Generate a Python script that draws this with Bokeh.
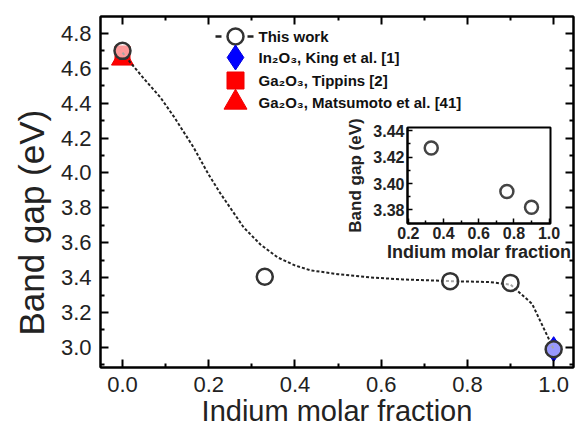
from bokeh.plotting import figure
from bokeh.models import (Range1d, FixedTicker, PrintfTickFormatter, LinearAxis, Title)
from bokeh.core.properties import value
from bokeh.layouts import column
from bokeh.embed import file_html
from bokeh.resources import INLINE

# ---- data ----
work_x = [0.0, 0.33, 0.76, 0.90, 1.0]
work_y = [4.70, 3.405, 3.38, 3.37, 2.99]
king_x = [1.0]
king_y = [2.99]
tippins_x = [0.0]
tippins_y = [4.685]
matsu_x = [0.0]
matsu_y = [4.655]
fit_x = [0.0, 0.02, 0.05, 0.088, 0.12, 0.165, 0.20, 0.227, 0.25, 0.281, 0.32,
         0.36, 0.40, 0.436, 0.50, 0.575, 0.65, 0.76, 0.85, 0.90, 0.95, 1.0]
fit_y = [4.69, 4.628, 4.54, 4.433, 4.32, 4.146, 3.99, 3.883, 3.80, 3.688, 3.59,
         3.516, 3.47, 3.442, 3.42, 3.401, 3.39, 3.38, 3.375, 3.36, 3.25, 2.99]
inset_x = [0.33, 0.76, 0.90]
inset_y = [3.427, 3.394, 3.382]

legend_labels = ["This work", "In\u2082O\u2083, King et al. [1]",
                 "Ga\u2082O\u2083, Tippins [2]", "Ga\u2082O\u2083, Matsumoto et al. [41]"]

x_ticks = [0.0, 0.2, 0.4, 0.6, 0.8, 1.0]
x_minor = [0.1, 0.3, 0.5, 0.7, 0.9]
y_ticks = [3.0, 3.2, 3.4, 3.6, 3.8, 4.0, 4.2, 4.4, 4.6, 4.8]
y_minor = [2.9, 3.1, 3.3, 3.5, 3.7, 3.9, 4.1, 4.3, 4.5, 4.7]
inset_x_ticks = [0.2, 0.4, 0.6, 0.8, 1.0]
inset_x_minor = [0.3, 0.5, 0.7, 0.9]
inset_y_ticks = [3.38, 3.40, 3.42, 3.44]
inset_y_minor = [3.37, 3.39, 3.41, 3.43]

FONT = "Liberation Sans"
X0, X1, Y0, Y1 = -0.051, 1.046, 2.885, 4.897
FRAME_W, FRAME_H = 473, 351

def px2x(px):
    return X0 + px / FRAME_W * (X1 - X0)

def px2y(py):
    return Y0 + py / FRAME_H * (Y1 - Y0)

def style_axis(ax, label_size, bold=False, show_labels=True):
    ax.axis_line_width = 2
    ax.major_tick_line_width = 2
    ax.minor_tick_line_width = 2
    ax.major_tick_in = 8
    ax.major_tick_out = 0
    ax.minor_tick_in = 4
    ax.minor_tick_out = 0
    ax.major_label_text_font = FONT
    ax.major_label_text_font_size = label_size if show_labels else "0px"
    ax.major_label_text_color = "#222222"
    if bold:
        ax.major_label_text_font_style = "bold"
    ax.axis_label_text_font = FONT
    ax.axis_label_text_font_style = "bold" if bold else "normal"
    ax.axis_label_text_color = "#222222"

p = figure(width=575, height=435, output_backend="svg", toolbar_location=None,
           x_range=Range1d(X0, X1), y_range=Range1d(Y0, Y1),
           min_border_left=100, min_border_right=2, min_border_top=16,
           min_border_bottom=68, frame_align=False)
p.grid.visible = False
p.outline_line_color = "black"
p.outline_line_width = 2
p.background_fill_color = "white"

p.xaxis.ticker = FixedTicker(ticks=x_ticks, minor_ticks=x_minor)
p.yaxis.ticker = FixedTicker(ticks=y_ticks, minor_ticks=y_minor)
p.xaxis.formatter = PrintfTickFormatter(format="%.1f")
p.yaxis.formatter = PrintfTickFormatter(format="%.1f")
style_axis(p.xaxis[0], "22px")
style_axis(p.yaxis[0], "22px")
p.xaxis.axis_label = "Indium molar fraction"
p.xaxis.axis_label_text_font_size = "29px"
p.xaxis.major_label_standoff = 9
p.yaxis.major_label_standoff = 9
p.xaxis.axis_label_standoff = 0

ylab = Title(text="Band gap (eV)", align="left", offset=32, text_font=FONT,
             text_font_size="35px", text_font_style="normal", text_color="#222222",
             standoff=14)
p.add_layout(ylab, "left")

top_ax = LinearAxis(ticker=FixedTicker(ticks=x_ticks, minor_ticks=x_minor))
style_axis(top_ax, "0px", show_labels=False)
top_ax.major_label_standoff = 0
p.add_layout(top_ax, "above")
right_ax = LinearAxis(ticker=FixedTicker(ticks=y_ticks, minor_ticks=y_minor))
style_axis(right_ax, "0px", show_labels=False)
right_ax.major_label_standoff = 0
p.add_layout(right_ax, "right")

# data marks
p.scatter(king_x, king_y, marker="diamond", size=25, fill_color="#0000ff",
          line_color="#0000dd", line_width=1)
p.scatter(tippins_x, tippins_y, marker="square", size=15, fill_color="#ff0000",
          line_color="#ee0000", line_width=1)
p.scatter(matsu_x, matsu_y, marker="triangle", size=22, fill_color="#ff0000",
          line_color="#ee0000", line_width=1)
p.line(fit_x, fit_y, line_dash="3 2", line_width=2, line_color="#222222")
p.scatter(work_x, work_y, marker="circle", size=16, fill_color="white",
          fill_alpha=0.6, line_color="#333333", line_width=2.5)

# manual legend (positions given in frame pixels, converted to data)
row_y = [px2y(v) for v in [331, 310, 287, 265]]
mx = px2x(135)
p.segment(x0=[px2x(115), px2x(147)], y0=[row_y[0]] * 2,
          x1=[px2x(121), px2x(153)], y1=[row_y[0]] * 2,
          line_color="#222222", line_width=2.5)
p.scatter([mx], [row_y[0]], marker="circle", size=16, fill_color="white",
          line_color="#333333", line_width=2.5)
p.scatter([mx], [row_y[1]], marker="diamond", size=25, fill_color="#0000ff",
          line_color="#0000dd", line_width=1)
p.scatter([mx], [row_y[2]], marker="square", size=17, fill_color="#ff0000",
          line_color="#ee0000", line_width=1)
p.scatter([mx], [row_y[3]], marker="triangle", size=23, fill_color="#ff0000",
          line_color="#ee0000", line_width=1)
p.text(x=[px2x(158)] * 4, y=row_y, text=legend_labels,
       text_font=value(FONT), text_font_style="bold", text_font_size="15px",
       text_baseline="middle", text_align="left", text_color="#111111")

# ---- inset: a transparent full-size overlay whose frame sits in the upper right ----
ins = figure(width=575, height=435, output_backend="svg", toolbar_location=None,
             x_range=Range1d(0.195, 1.008), y_range=Range1d(3.3697, 3.4425),
             min_border_left=407, min_border_right=25, min_border_top=127,
             min_border_bottom=212, frame_align=False)
ins.grid.visible = False
ins.outline_line_color = "black"
ins.outline_line_width = 2
ins.background_fill_alpha = 0
ins.border_fill_alpha = 0
ins.xaxis.ticker = FixedTicker(ticks=inset_x_ticks, minor_ticks=inset_x_minor)
ins.yaxis.ticker = FixedTicker(ticks=inset_y_ticks, minor_ticks=inset_y_minor)
ins.xaxis.formatter = PrintfTickFormatter(format="%.1f")
ins.yaxis.formatter = PrintfTickFormatter(format="%.2f")
style_axis(ins.xaxis[0], "16px", bold=True)
style_axis(ins.yaxis[0], "16px", bold=True)
for ax in (ins.xaxis[0], ins.yaxis[0]):
    ax.major_tick_in = 5
    ax.minor_tick_in = 3
    ax.major_tick_line_width = 1.5
    ax.minor_tick_line_width = 1.5
    ax.axis_line_width = 2
ins.xaxis.axis_label = "Indium molar fraction"
ins.yaxis.axis_label = "Band gap (eV)"
ins.xaxis.axis_label_text_font_size = "18px"
ins.yaxis.axis_label_text_font_size = "17px"
ins.xaxis.major_label_standoff = 3
ins.yaxis.major_label_standoff = 3
ins.xaxis.axis_label_standoff = 0
ins.yaxis.axis_label_standoff = 5
ins.scatter(inset_x, inset_y, marker="circle", size=13, fill_color="white", fill_alpha=0,
            line_color="#444444", line_width=2.5)
ins.margin = (-435, 0, 0, 0)

layout = column(p, ins)
open("out.html", "w").write(file_html(layout, INLINE))
